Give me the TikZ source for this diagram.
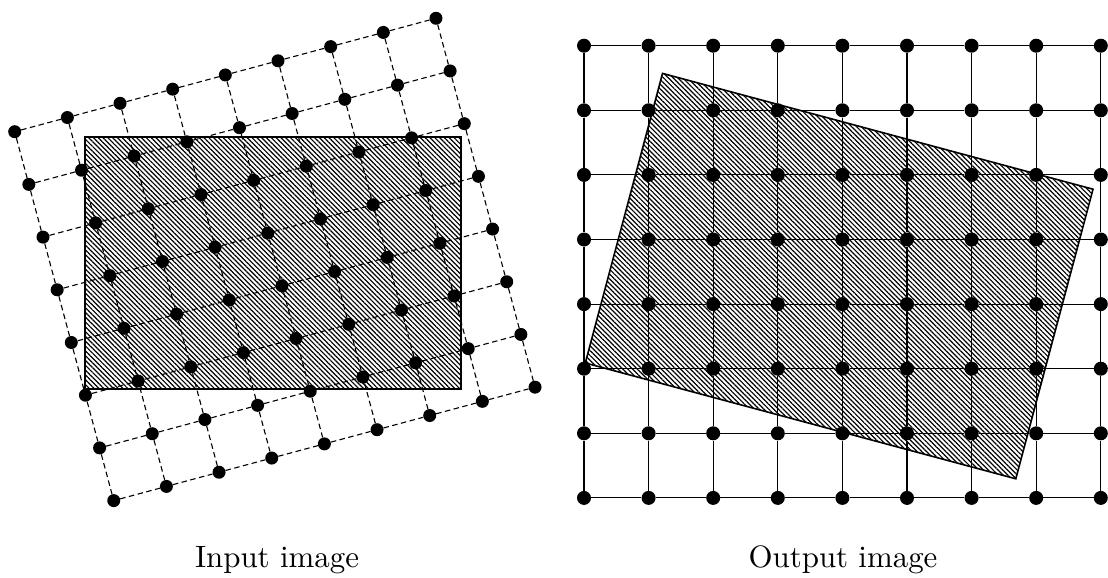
\documentclass[tikz,border=0pt]{standalone}
\usepackage{fontspec}
\usepackage{graphicx}
\usetikzlibrary{patterns.meta}
\begin{document}
\begin{tikzpicture}[x=1pt,y=-1pt,
  ldot/.style={circle,fill=black,inner sep=0pt,minimum size=13pt},
  rdot/.style={circle,fill=black,inner sep=0pt,minimum size=14pt},
  lgrid/.style={line width=1.1pt,dash pattern=on 5.5pt off 3.5pt},
  rgrid/.style={line width=1.1pt},
  hatch/.style={draw=black,line width=1.6pt,pattern={Lines[angle=-45,distance=3.4pt,line width=1.2pt]}},
  lbl/.style={anchor=base,inner sep=0pt}]
\useasboundingbox (0,0) rectangle (1108,578);
% hatched regions
\draw[hatch] (85,137.2) rectangle (461,389);
\draw[hatch] (662.5,73.4) -- (1093,189.2) -- (1015.8,478.8) -- (585.3,363) -- cycle;
% dots
\foreach \r in {0,...,7}{\foreach \c in {0,...,8}{
  \node[ldot] (L\r-\c) at ({14.7+52.66*\c+14.15*\r},{131.7-14.18*\c+52.7*\r}) {};
  \node[rdot] (R\r-\c) at ({584+64.6*\c},{45.7+64.6*\r}) {};
}}
% horizontal connectors
\foreach \r in {0,...,7}{\foreach \c in {0,...,7}{
  \pgfmathtruncatemacro{\nc}{\c+1}
  \draw[lgrid] (L\r-\c) -- (L\r-\nc);
  \draw[rgrid] (R\r-\c) -- (R\r-\nc);
}}
% vertical connectors
\foreach \r in {0,...,6}{\foreach \c in {0,...,8}{
  \pgfmathtruncatemacro{\nr}{\r+1}
  \draw[lgrid] (L\r-\c) -- (L\nr-\c);
  \draw[rgrid] (R\r-\c) -- (R\nr-\c);
}}
% labels
\node[lbl] (inlbl) at (277,567) {\scalebox{3.09}{\fontsize{10}{12}\selectfont Input image}};
\node[lbl] (outlbl) at (843,567) {\scalebox{3.09}{\fontsize{10}{12}\selectfont Output image}};
\end{tikzpicture}
\end{document}
